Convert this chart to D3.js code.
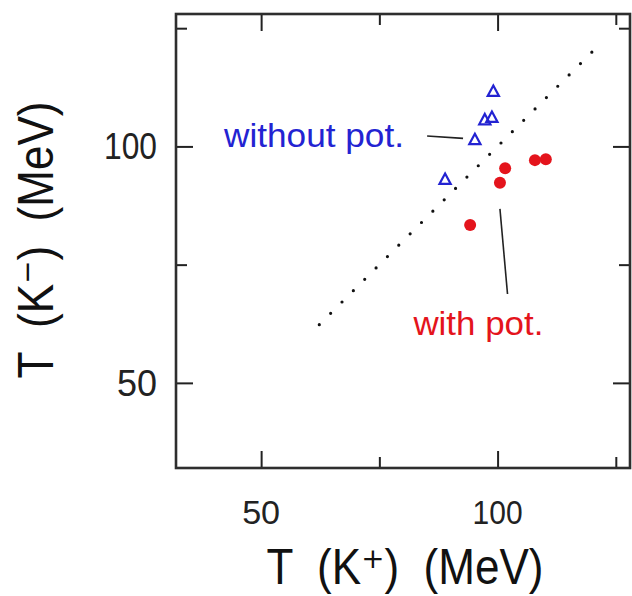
<!DOCTYPE html>
<html>
<head>
<meta charset="utf-8">
<script src="https://cdn.jsdelivr.net/npm/d3@7"></script>
<style>
  body { margin: 0; background: #fff; }
  text { font-family: "Liberation Sans Narrow", "Liberation Sans", "DejaVu Sans", Arial, sans-serif; }
</style>
</head>
<body>
<svg id="chart" width="632" height="596"></svg>
<script>
// Axis ranges and ticks (MeV)
const domain = [32, 128];
const majorTicks = [50, 100];
const minorTicks = [75, 125];
const tickLabels = ["50", "100"];
const xTitle = "T  (K\u207A)  (MeV)";
const yTitle = "T  (K\u207B)  (MeV)";

// Inverse slope temperatures: without kaon potential (open triangles)
const withoutPotKplus  = [99.1, 97.3, 98.8, 95.2, 88.9];
const withoutPotKminus = [111.6, 105.6, 106.1, 101.4, 93.0];

// with kaon potential (filled circles)
const withPotKplus  = [101.6, 100.5, 107.9, 110.2, 94.2];
const withPotKminus = [95.4, 92.3, 97.1, 97.3, 83.4];

// T(K-) = T(K+) reference line, endpoints
const diagonal = [62.3, 120.0];

// Label pointers: [x1, y1, x2, y2] in MeV
const withoutPointer = [85.1, 102.2, 92.7, 101.7];
const withPointer = [100.5, 86.8, 102.1, 68.8];

const blue = "#2323d2";
const red = "#e4141c";

const svg = d3.select("#chart");
const plotLeft = 176, plotRight = 630, plotTop = 14, plotBottom = 468;

const x = d3.scaleLinear().domain(domain).range([plotLeft, plotRight]);
const y = d3.scaleLinear().domain(domain).range([plotBottom, plotTop]);

const allTicks = [...majorTicks, ...minorTicks].sort((a, b) => a - b);
const tickLen = v => majorTicks.includes(v) ? 17 : 11;

// Inward ticks on all four sides
function styleAxis(g) {
  g.select(".domain").remove();
  g.selectAll(".tick line").attr("stroke", "#222").attr("stroke-width", 2);
  g.selectAll(".tick text").remove();
}
svg.append("g").attr("transform", `translate(0,${plotBottom})`)
  .call(d3.axisBottom(x).tickValues(allTicks).tickSize(0))
  .call(g => g.selectAll(".tick line").attr("y2", d => -tickLen(d)))
  .call(styleAxis);
svg.append("g").attr("transform", `translate(0,${plotTop})`)
  .call(d3.axisTop(x).tickValues(allTicks).tickSize(0))
  .call(g => g.selectAll(".tick line").attr("y2", d => tickLen(d)))
  .call(styleAxis);
svg.append("g").attr("transform", `translate(${plotLeft},0)`)
  .call(d3.axisLeft(y).tickValues(allTicks).tickSize(0))
  .call(g => g.selectAll(".tick line").attr("x2", d => tickLen(d)))
  .call(styleAxis);
svg.append("g").attr("transform", `translate(${plotRight},0)`)
  .call(d3.axisRight(y).tickValues(allTicks).tickSize(0))
  .call(g => g.selectAll(".tick line").attr("x2", d => -tickLen(d)))
  .call(styleAxis);

// Frame
svg.append("rect")
  .attr("x", x(domain[0])).attr("y", y(domain[1]))
  .attr("width", x(domain[1]) - x(domain[0]))
  .attr("height", y(domain[0]) - y(domain[1]))
  .attr("fill", "none").attr("stroke", "#2e2e2e").attr("stroke-width", 2.6);

// Tick labels
const xLabelWidths = [38, 50];
const yLabelWidths = [40, 53];
majorTicks.forEach((v, i) => {
  svg.append("text")
    .attr("x", x(v)).attr("y", 523.5)
    .attr("text-anchor", "middle")
    .attr("font-size", 33).attr("fill", "#222")
    .attr("textLength", xLabelWidths[i]).attr("lengthAdjust", "spacingAndGlyphs")
    .text(tickLabels[i]);
  svg.append("text")
    .attr("x", 157).attr("y", y(v) + 13)
    .attr("text-anchor", "end")
    .attr("font-size", 36).attr("fill", "#222")
    .attr("textLength", yLabelWidths[i]).attr("lengthAdjust", "spacingAndGlyphs")
    .text(tickLabels[i]);
});

// Axis titles
function title(g, label) {
  g.attr("font-size", 50).attr("fill", "#111").style("white-space", "pre")
    .attr("text-anchor", "middle")
    .attr("textLength", 277).attr("lengthAdjust", "spacingAndGlyphs")
    .text(label);
}
svg.append("text").attr("x", 405).attr("y", 584).call(title, xTitle);
svg.append("text").attr("transform", "translate(53,240) rotate(-90)").call(title, yTitle);

// Reference diagonal (dotted)
const diagLen = Math.hypot(x(diagonal[1]) - x(diagonal[0]), y(diagonal[1]) - y(diagonal[0]));
svg.append("line")
  .attr("x1", x(diagonal[0])).attr("y1", y(diagonal[0]))
  .attr("x2", x(diagonal[1])).attr("y2", y(diagonal[1]))
  .attr("stroke", "#111").attr("stroke-width", 3.2)
  .attr("stroke-linecap", "round")
  .attr("stroke-dasharray", `0 ${diagLen / 24 - 0.02}`);

// Pointer lines
[withoutPointer, withPointer].forEach(p => {
  svg.append("line")
    .attr("x1", x(p[0])).attr("y1", y(p[1]))
    .attr("x2", x(p[2])).attr("y2", y(p[3]))
    .attr("stroke", "#222").attr("stroke-width", 1.6);
});

// Open triangles
const tri = d3.range(withoutPotKplus.length);
svg.append("g").selectAll("path").data(tri).join("path")
  .attr("transform", i => `translate(${x(withoutPotKplus[i])},${y(withoutPotKminus[i])})`)
  .attr("d", "M0,-6L5.6,4.4L-5.6,4.4Z")
  .attr("fill", "none").attr("stroke", blue).attr("stroke-width", 2.2);

// Filled circles
svg.append("g").selectAll("circle").data(d3.range(withPotKplus.length)).join("circle")
  .attr("cx", i => x(withPotKplus[i])).attr("cy", i => y(withPotKminus[i]))
  .attr("r", 6).attr("fill", red);

// Series labels
svg.append("text").attr("x", x(42.15)).attr("y", y(99.8))
  .attr("font-size", 33).attr("fill", blue)
  .attr("textLength", 180).attr("lengthAdjust", "spacingAndGlyphs")
  .text("without pot.");
svg.append("text").attr("x", x(82.2)).attr("y", y(60.1))
  .attr("font-size", 33).attr("fill", red)
  .attr("textLength", 130).attr("lengthAdjust", "spacingAndGlyphs")
  .text("with pot.");
</script>
</body>
</html>
